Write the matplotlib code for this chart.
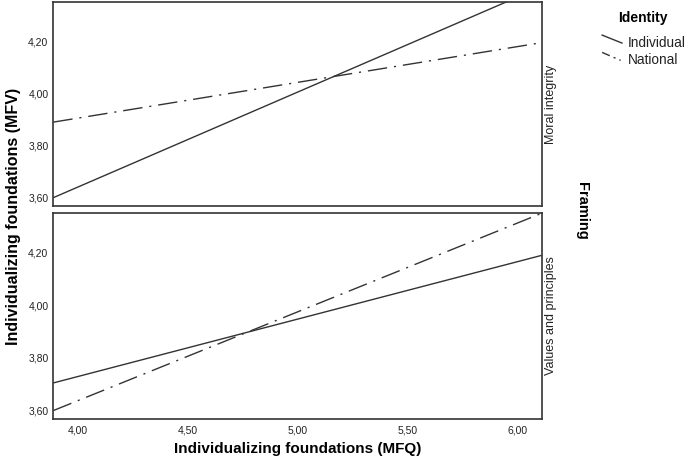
"""Fit lines of MFV on MFQ, split by framing condition and identity."""

import matplotlib

matplotlib.use("Agg")
import matplotlib.pyplot as plt  # noqa: E402
from matplotlib.lines import Line2D  # noqa: E402

plt.rcParams["font.family"] = ["Liberation Sans", "DejaVu Sans"]
plt.rcParams["lines.scale_dashes"] = False

# fit line endpoints (x = MFQ range, y = predicted MFV)
x_range = [3.889, 6.111]
framing = ["Moral integrity", "Values and principles"]
individual = [[3.60, 4.41], [3.705, 4.19]]
national = [[3.89, 4.195], [3.60, 4.35]]

x_ticks = [4.0, 4.5, 5.0, 5.5, 6.0]
y_ticks = [3.6, 3.8, 4.0, 4.2]

ink = "#333333"
dashdot = (0, (14, 5, 1.5, 5))
narrow = ["Liberation Sans Narrow", "Liberation Sans", "DejaVu Sans"]


def comma(v):
    return f"{v:.2f}".replace(".", ",")


fig = plt.figure(figsize=(6.85, 4.68), dpi=100)
axes = [
    fig.add_axes([0.0778, 0.5598, 0.7130, 0.4359]),
    fig.add_axes([0.0778, 0.1047, 0.7130, 0.4402]),
]

for i, ax in enumerate(axes):
    ax.plot(x_range, individual[i], color=ink, lw=1.0, solid_capstyle="butt")
    ax.plot(x_range, national[i], color=ink, lw=1.0, linestyle=dashdot)
    ax.set_xlim(x_range)
    ax.set_ylim(3.568, 4.351)
    ax.set_yticks(y_ticks)
    ax.set_yticklabels([comma(v) for v in y_ticks])
    ax.set_xticks(x_ticks)
    ax.tick_params(length=0, labelsize=7.5, colors="#222222", pad=3.5)
    for sp in ax.spines.values():
        sp.set_color(ink)
        sp.set_linewidth(1.2)
    ax.text(1.019, 0.5, framing[i], transform=ax.transAxes, rotation=90,
            ha="center", va="center", fontsize=9, color="#222222",
            family=narrow)

axes[0].set_xticklabels([])
axes[1].set_xticklabels([comma(v) for v in x_ticks])
axes[1].tick_params(axis="x", pad=5)

fig.text(0.4343, 1 - 449 / 468, "Individualizing foundations (MFQ)",
         ha="center", va="center", fontsize=11, fontweight="bold")
fig.text(0.019, 1 - 216 / 468, "Individualizing foundations (MFV)",
         rotation=90, ha="center", va="center", fontsize=11.5,
         fontweight="bold", family=narrow)
fig.text(0.850, 0.55, "Framing", rotation=-90, ha="center", va="center",
         fontsize=10.5, fontweight="bold")

# legend drawn by hand, SPSS style with slanted handles
fig.text(0.939, 0.962, "Identity", ha="center", va="center", fontsize=10,
         fontweight="bold")
fig.add_artist(Line2D([0.879, 0.908], [0.925, 0.908], color=ink, lw=1.0))
fig.add_artist(Line2D([0.879, 0.906], [0.888, 0.871], color=ink, lw=1.0,
                      linestyle=(0, (6, 3, 1.5, 3))))
fig.text(0.916, 0.909, "Individual", ha="left", va="center", fontsize=9.8,
         color="#222222")
fig.text(0.916, 0.871, "National", ha="left", va="center", fontsize=9.8,
         color="#222222")

fig.savefig("out.png", dpi=100)
plt.close(fig)
